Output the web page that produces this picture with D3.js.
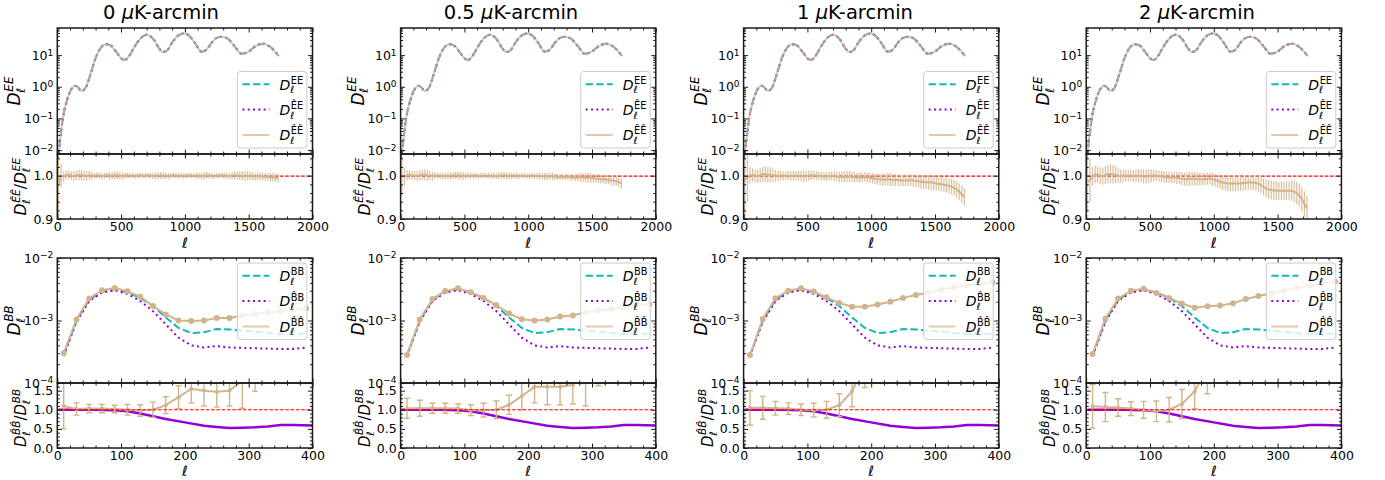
<!DOCTYPE html>
<html><head><meta charset="utf-8">
<script src="https://cdn.jsdelivr.net/npm/d3@7"></script>
<style>body{margin:0;background:#fff}svg{display:block}text{font-family:"DejaVu Sans",sans-serif}</style>
</head><body><svg id="c" width="1385" height="480"></svg>
<script>
// ---------------- DATA ----------------
const noiseLevels = ["0", "0.5", "1", "2"];

// EE power spectrum (same curve for the three overlaid spectra)
const eeEll  = [2,10,20,30,50,75,100,125,140,160,190,220,260,300,340,380,420,460,500,525,560,600,650,700,750,800,825,860,900,950,990,1030,1080,1130,1170,1210,1250,1290,1340,1390,1445,1500,1560,1615,1670,1735];
const eeSpec = [0.006,0.008,0.018,0.04,0.14,0.36,0.7,1.0,1.08,0.98,0.74,0.9,2.5,8,17,22,20,13,8,7,9,17,33,44,33,16,12.5,14,25,42,48,42,24,12.8,15,25,35,38,32,19,11,13,20,23,18,9.5];

// EE ratio bins
const eeBinEll = [10,30,50,70,90,110,130,150,170,190,
210,230,250,270,290,310,330,350,370,390,
410,430,450,470,490,510,530,550,570,590,
610,630,650,670,690,710,730,750,770,790,
810,830,850,870,890,910,930,950,970,990,
1010,1030,1050,1070,1090,1110,1130,1150,1170,1190,
1210,1230,1250,1270,1290,1310,1330,1350,1370,1390,
1410,1430,1450,1470,1490,1510,1530,1550,1570,1590,
1610,1630,1650,1670,1690,1710,1730];

const eeRatio0 = [0.980,1.000,0.998,1.001,1.002,1.000,0.999,1.001,1.002,1.001,
1.000,0.999,1.001,1.000,1.000,1.001,1.000,0.999,1.000,1.001,
1.000,1.000,1.001,1.001,1.000,0.999,1.000,1.001,1.000,1.000,
0.999,1.000,1.001,1.000,1.000,1.001,1.000,0.999,1.000,1.000,
1.001,1.000,1.000,0.999,1.000,1.001,1.000,1.000,1.000,0.999,
1.000,1.001,1.000,1.000,1.000,1.000,0.999,1.000,1.001,1.000,
1.000,0.999,1.000,1.000,1.001,1.000,1.000,0.999,1.000,1.001,
1.000,1.000,0.999,0.999,1.000,1.000,0.999,0.998,0.999,0.998,
0.998,0.997,0.997,0.996,0.996,0.995,0.995];
const eeErr0 = [0.080,0.027,0.012,0.010,0.010,0.010,0.011,0.011,0.012,0.012,
0.012,0.011,0.010,0.008,0.007,0.007,0.007,0.007,0.007,0.007,
0.008,0.008,0.009,0.009,0.009,0.008,0.007,0.006,0.006,0.006,
0.006,0.006,0.006,0.006,0.006,0.006,0.007,0.007,0.008,0.008,
0.008,0.008,0.007,0.007,0.006,0.006,0.006,0.006,0.006,0.006,
0.006,0.006,0.006,0.006,0.007,0.007,0.008,0.008,0.008,0.007,
0.007,0.006,0.006,0.006,0.006,0.006,0.007,0.007,0.008,0.009,
0.010,0.010,0.011,0.011,0.010,0.010,0.009,0.009,0.009,0.009,
0.009,0.009,0.009,0.010,0.010,0.010,0.010];

const eeRatio1 = [1.000,0.998,1.001,1.002,1.001,1.000,0.999,1.001,1.002,1.002,
1.001,1.000,0.999,1.000,1.000,1.000,1.000,0.999,1.000,1.000,
1.000,1.001,1.001,1.000,1.000,0.999,1.000,1.000,1.000,1.000,
0.999,1.000,1.000,1.000,1.000,1.000,1.000,0.999,1.000,1.000,
1.001,1.000,1.000,0.999,1.000,1.000,0.999,1.000,1.000,0.999,
0.999,1.000,0.999,0.999,0.999,0.999,0.998,0.998,0.999,0.998,
0.998,0.997,0.997,0.997,0.997,0.997,0.996,0.996,0.996,0.996,
0.996,0.996,0.995,0.995,0.994,0.994,0.993,0.993,0.992,0.992,
0.991,0.990,0.989,0.988,0.987,0.985,0.982];
const eeErr1 = [0.045,0.020,0.012,0.011,0.010,0.010,0.011,0.012,0.012,0.013,
0.012,0.011,0.010,0.008,0.007,0.007,0.007,0.007,0.008,0.008,
0.008,0.008,0.009,0.009,0.009,0.008,0.007,0.007,0.007,0.006,
0.006,0.006,0.006,0.006,0.006,0.007,0.007,0.007,0.008,0.008,
0.008,0.008,0.008,0.007,0.007,0.007,0.006,0.006,0.006,0.006,
0.006,0.007,0.007,0.007,0.008,0.008,0.008,0.008,0.008,0.008,
0.008,0.007,0.007,0.007,0.007,0.007,0.007,0.008,0.008,0.009,
0.010,0.010,0.011,0.011,0.011,0.010,0.010,0.010,0.010,0.010,
0.010,0.010,0.011,0.011,0.011,0.011,0.012];

const eeRatio2 = [0.990,0.995,1.000,1.002,1.000,0.999,1.001,1.003,1.003,1.002,
1.002,1.001,1.000,0.999,1.000,1.000,1.000,1.000,0.999,1.000,
1.000,1.000,0.999,0.998,0.999,1.000,1.001,1.001,1.000,0.999,
0.999,0.998,0.998,0.999,0.999,0.999,0.998,0.997,0.997,0.997,
0.998,0.998,0.997,0.996,0.996,0.996,0.996,0.997,0.996,0.995,
0.994,0.993,0.992,0.991,0.991,0.991,0.991,0.991,0.990,0.990,
0.990,0.989,0.989,0.989,0.989,0.990,0.989,0.988,0.987,0.986,
0.985,0.985,0.985,0.984,0.983,0.982,0.981,0.980,0.979,0.978,
0.976,0.975,0.972,0.968,0.963,0.957,0.951];
const eeErr2 = [0.100,0.055,0.020,0.016,0.015,0.015,0.016,0.017,0.018,0.018,
0.018,0.016,0.014,0.012,0.011,0.010,0.010,0.010,0.011,0.011,
0.011,0.012,0.012,0.013,0.013,0.012,0.011,0.010,0.010,0.010,
0.010,0.010,0.010,0.010,0.010,0.011,0.011,0.012,0.012,0.013,
0.013,0.013,0.012,0.012,0.011,0.011,0.011,0.011,0.011,0.012,
0.012,0.012,0.013,0.013,0.014,0.014,0.015,0.015,0.014,0.014,
0.013,0.013,0.013,0.013,0.013,0.013,0.014,0.014,0.015,0.016,
0.016,0.017,0.017,0.017,0.017,0.016,0.016,0.016,0.016,0.017,
0.017,0.018,0.018,0.019,0.019,0.020,0.020];

const eeRatio3 = [0.985,0.990,0.998,1.003,1.002,1.000,0.999,1.002,1.004,1.004,
1.003,1.002,1.000,0.999,1.000,1.000,1.000,1.000,0.999,1.000,
1.000,0.999,0.998,0.998,0.999,1.000,1.001,1.000,0.999,0.998,
0.997,0.996,0.996,0.996,0.996,0.995,0.994,0.993,0.992,0.992,
0.993,0.993,0.993,0.992,0.992,0.992,0.992,0.993,0.993,0.992,
0.990,0.988,0.986,0.984,0.983,0.982,0.982,0.982,0.982,0.982,
0.982,0.983,0.983,0.984,0.984,0.984,0.983,0.981,0.978,0.974,
0.970,0.968,0.967,0.966,0.965,0.965,0.965,0.965,0.965,0.965,
0.965,0.963,0.960,0.955,0.946,0.935,0.924];
const eeErr3 = [0.070,0.050,0.022,0.020,0.019,0.019,0.020,0.021,0.022,0.022,
0.021,0.019,0.017,0.015,0.014,0.013,0.013,0.013,0.014,0.014,
0.015,0.015,0.016,0.016,0.016,0.015,0.014,0.013,0.013,0.013,
0.013,0.013,0.013,0.013,0.013,0.014,0.014,0.015,0.015,0.016,
0.016,0.016,0.015,0.015,0.014,0.014,0.014,0.014,0.014,0.015,
0.015,0.016,0.016,0.017,0.017,0.018,0.018,0.018,0.018,0.017,
0.017,0.017,0.017,0.017,0.017,0.017,0.018,0.018,0.019,0.020,
0.021,0.022,0.022,0.022,0.022,0.021,0.021,0.021,0.021,0.022,
0.023,0.025,0.026,0.027,0.028,0.029,0.030];

// BB spectra (bins of 20)
const bbEll = [10,30,50,70,90,110,130,150,170,190,210,230,250,270,290,310,330,350,370,390];
const bbTrue = [2.8e-4,0.98e-3,2.15e-3,2.9e-3,3.15e-3,2.8e-3,2.3e-3,1.7e-3,1.12e-3,0.76e-3,0.63e-3,0.65e-3,0.73e-3,0.72e-3,0.69e-3,0.66e-3,0.63e-3,0.61e-3,0.60e-3,0.62e-3];
const bbHat  = [2.7e-4,0.95e-3,2.05e-3,2.8e-3,3.05e-3,2.65e-3,2.05e-3,1.41e-3,0.87e-3,0.53e-3,0.40e-3,0.37e-3,0.39e-3,0.37e-3,0.365e-3,0.36e-3,0.355e-3,0.35e-3,0.35e-3,0.37e-3];
const bbHatHat0 = [3.0e-4,1.04e-3,2.25e-3,3.05e-3,3.3e-3,2.95e-3,2.4e-3,1.7e-3,1.25e-3,1.0e-3,0.98e-3,1.0e-3,1.1e-3,1.1e-3,1.2e-3,1.27e-3,1.35e-3,1.4e-3,1.47e-3,1.55e-3];
const bbHatHat1 = [2.8e-4,1.04e-3,2.2e-3,2.96e-3,3.27e-3,2.83e-3,2.3e-3,1.77e-3,1.3e-3,1.05e-3,1.0e-3,1.04e-3,1.16e-3,1.2e-3,1.36e-3,1.44e-3,1.53e-3,1.63e-3,1.73e-3,1.82e-3];
const bbHatHat2 = [2.8e-4,1.06e-3,2.27e-3,3.0e-3,3.27e-3,2.9e-3,2.35e-3,1.9e-3,1.66e-3,1.66e-3,1.8e-3,2.0e-3,2.3e-3,2.55e-3,2.8e-3,3.1e-3,3.4e-3,3.65e-3,3.9e-3,4.1e-3];
const bbHatHat3 = [2.9e-4,1.07e-3,2.24e-3,3.0e-3,3.23e-3,2.76e-3,2.3e-3,1.87e-3,1.6e-3,1.69e-3,1.73e-3,1.89e-3,2.2e-3,2.47e-3,2.7e-3,3.0e-3,3.3e-3,3.6e-3,3.9e-3,4.2e-3];

// BB ratio: hat/true (purple) and hathat/true (tan, with errors)
const bbRatioHatEll = [2,30,60,90,110,130,150,170,200,230,250,270,290,310,330,350,370,400];
const bbRatioHat    = [1.0,1.0,1.0,0.99,0.96,0.9,0.83,0.76,0.67,0.58,0.55,0.52,0.53,0.54,0.56,0.6,0.6,0.59];
const bbRatio0 = [1.1,1.02,1.03,1.03,1.02,1.0,0.98,1.0,1.12,1.33,1.55,1.5,1.47,1.5,1.76,1.95,2.15,2.3,2.45,2.5];
const bbErr0   = [0.6,0.16,0.11,0.11,0.1,0.14,0.15,0.2,0.22,0.3,0.37,0.4,0.4,0.4,0.72,0.47,0.4,0.45,0.5,0.5];
const bbRatio1 = [1.04,1.04,1.04,1.04,1.03,0.99,0.99,1.0,1.13,1.36,1.6,1.6,1.6,1.65,2.0,2.2,2.4,2.6,2.8,2.95];
const bbErr1   = [0.26,0.21,0.13,0.13,0.12,0.14,0.18,0.23,0.25,0.36,0.42,0.47,0.47,0.5,0.9,0.57,0.6,0.7,0.8,0.8];
const bbRatio2 = [1.05,1.05,1.04,1.03,1.0,0.99,1.0,1.12,1.48,2.18,2.8,3.0,3.2,3.5,4.0,4.5,5.0,5.5,6.0,6.5];
const bbErr2   = [0.45,0.3,0.18,0.15,0.15,0.18,0.22,0.3,0.4,0.6,0.8,0.9,1.0,1.0,1.0,1.0,1.0,1.0,1.0,1.0];
const bbRatio3 = [1.09,1.07,1.06,1.03,1.0,0.96,1.0,1.15,1.48,2.1,2.7,2.9,3.0,3.4,3.9,4.5,5.2,5.9,6.5,6.8];
const bbErr3   = [0.57,0.38,0.23,0.18,0.22,0.27,0.32,0.38,0.45,0.68,0.8,0.9,1.0,1.0,1.0,1.0,1.0,1.0,1.0,1.0];

// axis ticks
const eeXTicks = [0,500,1000,1500,2000];
const bbXTicks = [0,100,200,300,400];
const eeYTicks = [1e-2,1e-1,1,10];
const eeYLabels = ["−2","−1","0","1"];
const eeRTicks = [0.9,1.0];
const bbYTicks = [1e-4,1e-3,1e-2];
const bbYLabels = ["−4","−3","−2"];
const bbRTicks = [0,0.5,1.0,1.5];

const eeRatios = [eeRatio0,eeRatio1,eeRatio2,eeRatio3];
const eeErrs = [eeErr0,eeErr1,eeErr2,eeErr3];
const bbHatHats = [bbHatHat0,bbHatHat1,bbHatHat2,bbHatHat3];
const bbRatios = [bbRatio0,bbRatio1,bbRatio2,bbRatio3];
const bbErrs = [bbErr0,bbErr1,bbErr2,bbErr3];

// ---------------- STYLE / LAYOUT ----------------
const TAN = "#d2b48c", CYAN = "#10b8b8", PURP = "#9400d3", INK = "#1a1a1a";
const colX = [57.3, 400.6, 743.6, 1086.2], PW = 255.2;
const titleX = [161, 511, 855, 1197];
const EE_T = 28, EE_M = 154, EE_B = 219;
const BB_T = 258, BB_M = 383, BB_B = 448;
const TICKF = 12.5;

const svg = d3.select("#c");
const defs = svg.append("defs");
let clipN = 0;
function clip(x0, y0, x1, y1) {
  const id = "cp" + (clipN++);
  defs.append("clipPath").attr("id", id).append("rect").attr("x", x0).attr("y", y0).attr("width", x1 - x0).attr("height", y1 - y0);
  return "url(#" + id + ")";
}

function logMinors(lo, hi) {
  const out = [];
  for (let e = Math.floor(Math.log10(lo)); e <= Math.ceil(Math.log10(hi)); e++)
    for (let m = 2; m <= 9; m++) { const v = m * Math.pow(10, e); if (v >= lo && v <= hi) out.push(v); }
  return out;
}
function linMinors(lo, hi, step, majors) {
  const out = [];
  for (let v = lo; v <= hi + 1e-9; v += step) { const r = +v.toFixed(6); if (!majors.some(m => Math.abs(m - r) < 1e-9)) out.push(r); }
  return out;
}

function drawAxes(g, xs, ys, o) {
  const [x0, x1] = xs.range(); const [yb, yt] = ys.range();
  const put = (fn, scale, vals, len, tr, withLabels, pad) => {
    const a = fn(scale).tickValues(vals).tickSizeInner(-len).tickSizeOuter(0).tickPadding(pad || 4);
    if (!withLabels) a.tickFormat("");
    else if (withLabels !== true) a.tickFormat(withLabels);
    const s = g.append("g").attr("transform", tr).call(a);
    s.select(".domain").remove();
    s.selectAll("line").attr("stroke", INK).attr("stroke-width", 1);
    s.attr("font-family", "DejaVu Sans").attr("font-size", TICKF);
    s.selectAll("text").attr("fill", "#000");
    return s;
  };
  const xb = put(d3.axisBottom, xs, o.xMajor, 4.5, `translate(0,${yb})`, o.xLabels ? (d => String(d)) : false, 3);
  put(d3.axisBottom, xs, o.xMinor, 2.5, `translate(0,${yb})`, false);
  put(d3.axisTop, xs, o.xMajor, 4.5, `translate(0,${yt})`, false);
  put(d3.axisTop, xs, o.xMinor, 2.5, `translate(0,${yt})`, false);
  const yl = put(d3.axisLeft, ys, o.yMajor, 4.5, `translate(${x0},0)`, o.yFmt || true, 4);
  put(d3.axisLeft, ys, o.yMinor, 2.5, `translate(${x0},0)`, false);
  put(d3.axisRight, ys, o.yMajor, 4.5, `translate(${x1},0)`, false);
  put(d3.axisRight, ys, o.yMinor, 2.5, `translate(${x1},0)`, false);
  if (o.expLabels) {
    yl.selectAll(".tick text").each(function (d, i) {
      const t = d3.select(this); t.text(null);
      t.append("tspan").text("10");
      t.append("tspan").attr("dy", "-0.45em").attr("font-size", "0.72em").text(o.expLabels[i]);
    });
  }
  if (o.xLabels) xb.selectAll("text").attr("dy", "0.74em");
}

function frame(g, x0, y0, x1, y1) {
  g.append("rect").attr("x", x0).attr("y", y0).attr("width", x1 - x0).attr("height", y1 - y0)
    .attr("fill", "none").attr("stroke", INK).attr("stroke-width", 1.5);
}

// math-like "D_ell^{sup}" ; returns end x
function mathD(g, x, y, fs, sup, supItalic) {
  const t = g.append("text").attr("x", x).attr("y", y).attr("font-size", fs).attr("font-style", "italic").text("D");
  const w = t.node().getComputedTextLength();
  const sub = g.append("text").attr("x", x + w - 0.02 * fs).attr("y", y + 0.26 * fs).attr("font-size", 0.7 * fs).attr("font-style", "italic").text("ℓ");
  const sp = g.append("text").attr("x", x + w + 0.04 * fs).attr("y", y - 0.42 * fs).attr("font-size", 0.7 * fs).attr("font-style", supItalic ? "italic" : "normal").text(sup);
  const w2 = Math.max(sub.node().getComputedTextLength() - 0.02 * fs, sp.node().getComputedTextLength() + 0.04 * fs);
  return x + w + w2;
}

function yLabel(g, cx, cy, fs, build) {
  const outer = g.append("g").attr("transform", `translate(${cx},${cy}) rotate(-90)`);
  const inner = outer.append("g");
  const w = build(inner, fs);
  inner.attr("transform", `translate(${-w / 2},0)`);
}

function legend(g, x1, yTop, items) {
  const bw = 69.5, bh = 76.5, bx = x1 - 5.6 - bw;
  g.append("rect").attr("x", bx).attr("y", yTop).attr("width", bw).attr("height", bh).attr("rx", 3)
    .attr("fill", "#fff").attr("fill-opacity", 0.8).attr("stroke", "#cccccc").attr("stroke-width", 1);
  items.forEach((it, i) => {
    const ly = yTop + 12.7 + i * 25.4;
    const l = g.append("line").attr("x1", bx + 5).attr("x2", bx + 32).attr("y1", ly).attr("y2", ly)
      .attr("stroke", it.color).attr("stroke-width", 2).attr("stroke-dasharray", it.dash || null);
    if (it.op) l.attr("stroke-opacity", it.op);
    mathD(g, bx + 42, ly + 5.3, 14, it.sup, false);
  });
}

const eeXMinor = linMinors(0, 2000, 100, eeXTicks);
const bbXMinor = linMinors(0, 400, 20, bbXTicks);

noiseLevels.forEach((lev, c) => {
  const x0 = colX[c], x1 = x0 + PW;
  const g = svg.append("g");

  // title
  const tt = g.append("text").attr("x", titleX[c]).attr("y", 19).attr("font-size", 19.5).attr("text-anchor", "middle");
  tt.append("tspan").text(lev + " ");
  tt.append("tspan").attr("font-style", "italic").text("μ");
  tt.append("tspan").text("K-arcmin");

  // ---- EE main ----
  const xE = d3.scaleLinear().domain([0, 2000]).range([x0, x1]);
  const yE = d3.scaleLog().domain([0.0075, 72]).range([EE_M, EE_T]);
  const eeData = d3.zip(eeEll, eeSpec);
  const lnE = d3.line().x(d => xE(d[0])).y(d => yE(d[1])).curve(d3.curveMonotoneX);
  const gE = g.append("g").attr("clip-path", clip(x0, EE_T, x1, EE_M));
  gE.append("path").attr("d", lnE(eeData)).attr("fill", "none").attr("stroke", CYAN).attr("stroke-width", 2).attr("stroke-dasharray", "7.4,3.2");
  gE.append("path").attr("d", lnE(eeData)).attr("fill", "none").attr("stroke", PURP).attr("stroke-width", 2).attr("stroke-dasharray", "2,3.3");
  gE.append("path").attr("d", lnE(eeData)).attr("fill", "none").attr("stroke", TAN).attr("stroke-width", 2).attr("stroke-opacity", 0.75);
  drawAxes(g, xE, yE, { xMajor: eeXTicks, xMinor: eeXMinor, yMajor: eeYTicks, yMinor: logMinors(0.0075, 72), expLabels: eeYLabels, xLabels: false });
  legend(g, x1, EE_M - 6 - 76.5, [
    { color: CYAN, dash: "7.4,3.2", sup: "EE" },
    { color: PURP, dash: "2,3.3", sup: "ÊE" },
    { color: TAN, sup: "ÊÊ", op: 0.7 }]);
  yLabel(g, x0 - 37, (EE_T + EE_M) / 2, 17, (h, fs) => mathD(h, 0, 0, fs, "EE", true));

  // ---- EE ratio ----
  const yER = d3.scaleLinear().domain([0.9, 1.05]).range([EE_B, EE_M]);
  const gR = g.append("g").attr("clip-path", clip(x0, EE_M, x1, EE_B));
  const rr = eeRatios[c], re = eeErrs[c];
  const rData = eeBinEll.map((l, i) => [l, rr[i], re[i]]).filter(d => d[1] !== undefined);
  gR.append("line").attr("x1", x0).attr("x2", x1).attr("y1", yER(1) + 0.5).attr("y2", yER(1) + 0.5).attr("stroke", "#ff0000").attr("stroke-width", 1.2).attr("stroke-dasharray", "3.7,1.6");
  gR.selectAll("line.eb").data(rData).join("line").attr("class", "eb")
    .attr("x1", d => xE(d[0])).attr("x2", d => xE(d[0])).attr("y1", d => yER(d[1] - d[2])).attr("y2", d => yER(d[1] + d[2]))
    .attr("stroke", TAN).attr("stroke-width", 1.2).attr("stroke-opacity", 0.85);
  gR.append("path").attr("d", d3.line().x(d => xE(d[0])).y(d => yER(d[1]))(rData)).attr("fill", "none").attr("stroke", TAN).attr("stroke-width", 2);
  drawAxes(g, xE, yER, { xMajor: eeXTicks, xMinor: eeXMinor, yMajor: eeRTicks, yMinor: linMinors(0.9, 1.05, 0.02, eeRTicks), xLabels: true, yFmt: d3.format(".1f") });
  g.append("text").attr("x", (x0 + x1) / 2).attr("y", 247.5).attr("font-size", 14.5).attr("font-style", "italic").attr("text-anchor", "middle").text("ℓ");
  yLabel(g, x0 - 31, (EE_M + EE_B) / 2, 15.5, (h, fs) => {
    let x = mathD(h, 0, 0, fs, "ÊÊ", true);
    const s = h.append("text").attr("x", x).attr("y", 0).attr("font-size", fs).text("/");
    x += s.node().getComputedTextLength();
    return mathD(h, x, 0, fs, "EE", true);
  });
  frame(g, x0, EE_T, x1, EE_M);
  frame(g, x0, EE_M, x1, EE_B);

  // ---- BB main ----
  const xB = d3.scaleLinear().domain([0, 400]).range([x0, x1]);
  const yB = d3.scaleLog().domain([1e-4, 1e-2]).range([BB_M, BB_T]);
  const gB = g.append("g").attr("clip-path", clip(x0, BB_T, x1, BB_M));
  const lnB = d3.line().x(d => xB(d[0])).y(d => yB(d[1]));
  gB.append("path").attr("d", lnB(d3.zip(bbEll, bbTrue))).attr("fill", "none").attr("stroke", CYAN).attr("stroke-width", 2).attr("stroke-dasharray", "7.4,3.2");
  gB.append("path").attr("d", lnB(d3.zip(bbEll, bbHat))).attr("fill", "none").attr("stroke", PURP).attr("stroke-width", 2).attr("stroke-dasharray", "2,3.3");
  const hh = d3.zip(bbEll, bbHatHats[c]);
  gB.append("path").attr("d", lnB(hh)).attr("fill", "none").attr("stroke", TAN).attr("stroke-width", 2);
  gB.selectAll("circle").data(hh).join("circle").attr("cx", d => xB(d[0])).attr("cy", d => yB(d[1])).attr("r", 3).attr("fill", TAN);
  drawAxes(g, xB, yB, { xMajor: bbXTicks, xMinor: bbXMinor, yMajor: bbYTicks, yMinor: logMinors(1e-4, 1e-2), expLabels: bbYLabels, xLabels: false });
  legend(g, x1, BB_T + 5, [
    { color: CYAN, dash: "7.4,3.2", sup: "BB" },
    { color: PURP, dash: "2,3.3", sup: "B\u0302B" },
    { color: TAN, sup: "B\u0302B\u0302", op: 0.7 }]);
  yLabel(g, x0 - 37, (BB_T + BB_M) / 2, 17, (h, fs) => mathD(h, 0, 0, fs, "BB", true));

  // ---- BB ratio ----
  const yBR = d3.scaleLinear().domain([0, 1.7]).range([BB_B, BB_M]);
  const gBR = g.append("g").attr("clip-path", clip(x0, BB_M, x1, BB_B));
  gBR.append("path").attr("d", d3.line().x(d => xB(d[0])).y(d => yBR(d[1]))(d3.zip(bbRatioHatEll, bbRatioHat)))
    .attr("fill", "none").attr("stroke", PURP).attr("stroke-width", 2.5);
  const brd = bbEll.map((l, i) => [l, bbRatios[c][i], bbErrs[c][i]]);
  const eb = gBR.selectAll("g.eb").data(brd).join("g").attr("class", "eb").attr("stroke", TAN).attr("stroke-width", 1.4);
  eb.append("line").attr("x1", d => xB(d[0])).attr("x2", d => xB(d[0])).attr("y1", d => yBR(d[1] - d[2])).attr("y2", d => yBR(d[1] + d[2]));
  eb.append("line").attr("x1", d => xB(d[0]) - 3).attr("x2", d => xB(d[0]) + 3).attr("y1", d => yBR(d[1] - d[2])).attr("y2", d => yBR(d[1] - d[2]));
  eb.append("line").attr("x1", d => xB(d[0]) - 3).attr("x2", d => xB(d[0]) + 3).attr("y1", d => yBR(d[1] + d[2])).attr("y2", d => yBR(d[1] + d[2]));
  gBR.append("path").attr("d", d3.line().x(d => xB(d[0])).y(d => yBR(d[1]))(brd)).attr("fill", "none").attr("stroke", TAN).attr("stroke-width", 2);
  gBR.selectAll("circle").data(brd).join("circle").attr("cx", d => xB(d[0])).attr("cy", d => yBR(d[1])).attr("r", 2).attr("fill", TAN);
  gBR.append("line").attr("x1", x0).attr("x2", x1).attr("y1", yBR(1)).attr("y2", yBR(1)).attr("stroke", "#ff0000").attr("stroke-width", 1.2).attr("stroke-dasharray", "3.7,1.6");
  drawAxes(g, xB, yBR, { xMajor: bbXTicks, xMinor: bbXMinor, yMajor: bbRTicks, yMinor: linMinors(0, 1.7, 0.1, bbRTicks), xLabels: true, yFmt: d3.format(".1f") });
  g.append("text").attr("x", (x0 + x1) / 2).attr("y", 476).attr("font-size", 14).attr("font-style", "italic").attr("text-anchor", "middle").text("ℓ");
  yLabel(g, x0 - 31, (BB_M + BB_B) / 2 + 2.5, 15, (h, fs) => {
    let x = mathD(h, 0, 0, fs, "B\u0302B\u0302", true);
    const s = h.append("text").attr("x", x).attr("y", 0).attr("font-size", fs).text("/");
    x += s.node().getComputedTextLength();
    return mathD(h, x, 0, fs, "BB", true);
  });
  frame(g, x0, BB_T, x1, BB_M);
  frame(g, x0, BB_M, x1, BB_B);
});
</script></body></html>
